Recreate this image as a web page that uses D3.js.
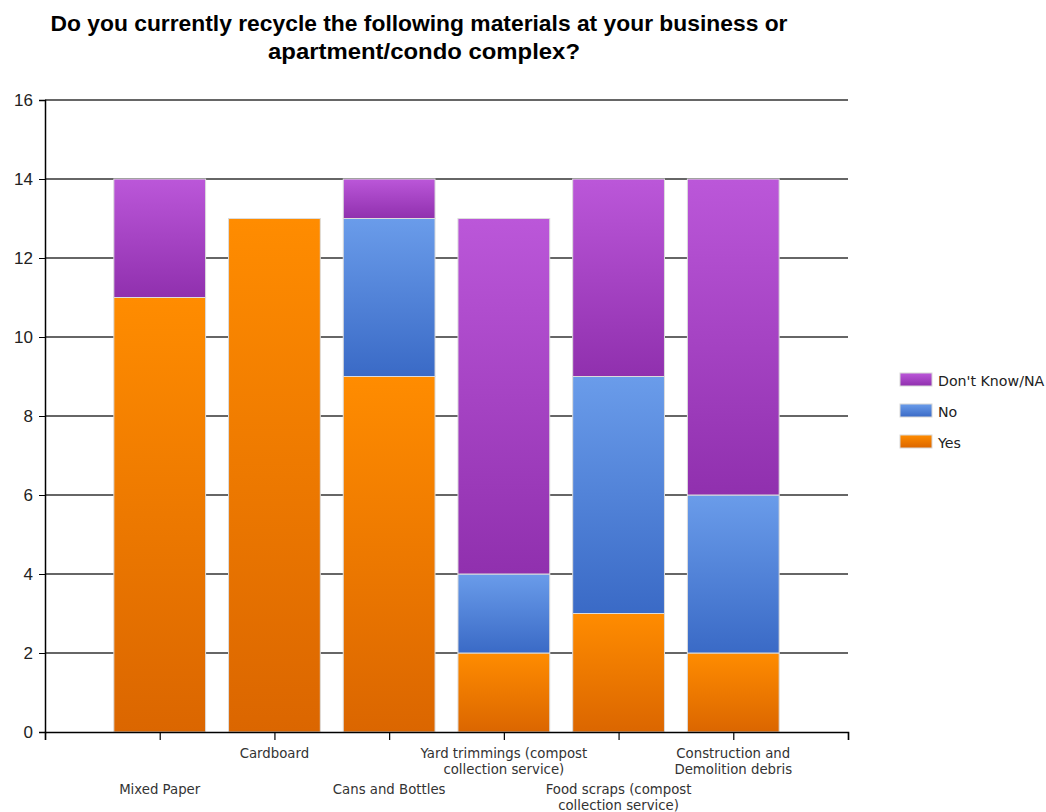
<!DOCTYPE html>
<html><head><meta charset="utf-8">
<script src="https://cdn.jsdelivr.net/npm/d3@7"></script>
<style>
body{margin:0;background:#fff;}
svg{display:block;}
</style></head>
<body>
<svg id="chart" width="1046" height="812"></svg>
<script>
const categories = ["Mixed Paper","Cardboard","Cans and Bottles","Yard trimmings (compost collection service)","Food scraps (compost collection service)","Construction and Demolition debris"];
const categoryLines = [["Mixed Paper"],["Cardboard"],["Cans and Bottles"],["Yard trimmings (compost","collection service)"],["Food scraps (compost","collection service)"],["Construction and","Demolition debris"]];
const seriesNames = ["Yes","No","Don't Know/NA"];
const yesValues = [11,13,9,2,3,2];
const noValues = [0,0,4,2,6,4];
const dkValues = [3,0,1,9,5,8];
const yTicks = [0,2,4,6,8,10,12,14,16];
const titleLines = ["Do you currently recycle the following materials at your business or","apartment/condo complex?"];

const svg = d3.select("#chart");
const plotLeft = 45, plotRight = 848, plotTop = 100, plotBottom = 732;
const x = d3.scaleLinear().domain([0, categories.length + 1]).range([plotLeft, plotRight]);
const y = d3.scaleLinear().domain([0, 16]).range([plotBottom, plotTop]);
const bw = (x(1) - x(0)) * 0.8;

const gradSpecs = [
  {id:"gYes", top:"#ff8c00", bot:"#db6600"},
  {id:"gNo", top:"#6a9cea", bot:"#3a6ac6"},
  {id:"gDk", top:"#bb57d9", bot:"#9030ae"}
];
const defs = svg.append("defs");
gradSpecs.forEach(g => {
  const lgd = defs.append("linearGradient").attr("id", g.id).attr("x1",0).attr("y1",0).attr("x2",0).attr("y2",1);
  lgd.append("stop").attr("offset","0%").attr("stop-color", g.top);
  lgd.append("stop").attr("offset","100%").attr("stop-color", g.bot);
});
const fills = ["url(#gYes)","url(#gNo)","url(#gDk)"];

// title
const titleWidths = [737, 312];
const titleCenters = [419, 424];
svg.append("g").selectAll("text").data(titleLines).join("text")
  .attr("x", (d,i) => titleCenters[i]).attr("y", (d,i) => 31 + i*28)
  .attr("text-anchor","middle")
  .attr("textLength", (d,i) => titleWidths[i])
  .attr("lengthAdjust","spacingAndGlyphs")
  .style("font-family","'Liberation Sans',Arial,sans-serif")
  .style("font-weight","bold").style("font-size","22px").style("fill","#000")
  .text(d => d);

// gridlines
svg.append("g").selectAll("line").data(yTicks.filter(t => t > 0)).join("line")
  .attr("x1", plotLeft).attr("x2", plotRight)
  .attr("y1", d => y(d)).attr("y2", d => y(d))
  .attr("stroke","#333").attr("stroke-width",1.6);

// stacked data
const rows = categories.map((c,i) => ({cat:c, Yes:yesValues[i], No:noValues[i], "Don't Know/NA":dkValues[i]}));
const stack = d3.stack().keys(seriesNames)(rows);

const barG = svg.append("g");
stack.forEach((s, si) => {
  barG.append("g").selectAll("rect").data(s.map((d,i) => ({d, i})).filter(o => o.d[1] - o.d[0] > 0)).join("rect")
    .attr("x", o => x(o.i + 1) - bw/2)
    .attr("width", bw)
    .attr("y", o => y(o.d[1]))
    .attr("height", o => y(o.d[0]) - y(o.d[1]))
    .attr("fill", fills[si])
    .attr("stroke","#dcdcdc").attr("stroke-width",1);
});

// y axis
const yAxis = d3.axisLeft(y).tickValues(yTicks).tickSize(6).tickPadding(6);
const yg = svg.append("g").attr("transform", `translate(${plotLeft},0)`).call(yAxis);
yg.select(".domain").attr("stroke","#000").attr("stroke-width",1.5);
yg.selectAll(".tick line").attr("stroke","#000");
yg.selectAll("text").style("font-family","'Liberation Sans',Arial,sans-serif").style("font-size","17px").style("fill","#222");

// x axis
const xTickVals = d3.range(0, categories.length + 2);
const xAxis = d3.axisBottom(x).tickValues(xTickVals).tickSize(8).tickFormat("");
const xg = svg.append("g").attr("transform", `translate(0,${plotBottom})`).call(xAxis);
xg.select(".domain").attr("stroke","#000").attr("stroke-width",1.5);
xg.selectAll(".tick line").attr("stroke","#000").attr("stroke-width",1.2);

// x labels staggered
const labG = svg.append("g");
categoryLines.forEach((lines, i) => {
  const base = (i % 2 === 0) ? 794 : 758;
  lines.forEach((ln, j) => {
    labG.append("text")
      .attr("x", x(i + 1)).attr("y", base + j*16)
      .attr("text-anchor","middle")
      .style("font-family","'DejaVu Sans',Tahoma,sans-serif").style("font-size","13.3px").style("fill","#333")
      .text(ln);
  });
});

// legend
const legendOrder = [2,1,0];
const lgG = svg.append("g");
legendOrder.forEach((si, k) => {
  const yy = 373 + k*31;
  lgG.append("rect").attr("x",900).attr("y",yy).attr("width",32).attr("height",13)
    .attr("fill", fills[si]).attr("stroke","#d8d8d8");
  lgG.append("text").attr("x",938).attr("y",yy+13)
    .style("font-family","'DejaVu Sans',Tahoma,sans-serif").style("font-size","14.2px").style("fill","#222")
    .text(seriesNames[si]);
});
</script>
</body></html>
